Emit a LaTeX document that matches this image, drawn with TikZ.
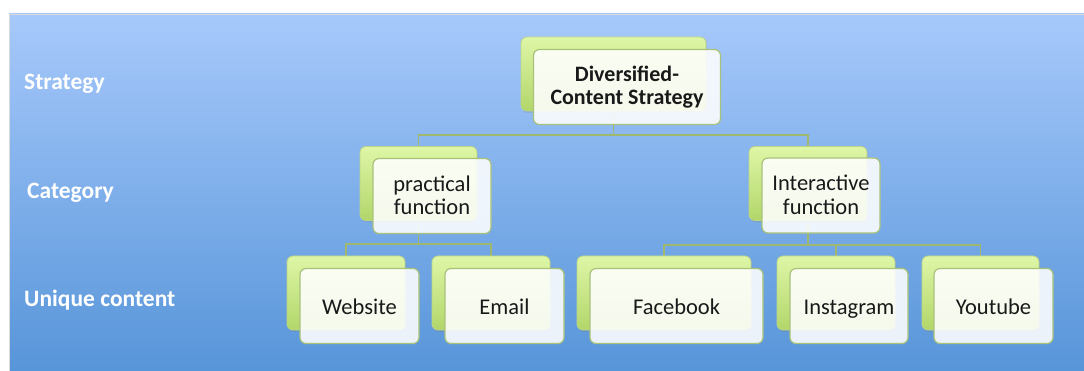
\documentclass[tikz,border=0pt]{standalone}
\usepackage{fontspec}
\setmainfont{Carlito}
\usetikzlibrary{shadows}
\pgfdeclarelayer{back}
\pgfdeclarelayer{lines}
\pgfsetlayers{back,lines,main}
\definecolor{bgtop}{HTML}{A7C9FB}
\definecolor{bgbot}{HTML}{5795D9}
\definecolor{gtop}{HTML}{DEF6A6}
\definecolor{gbot}{HTML}{B2D66A}
\definecolor{gedge}{HTML}{BCD488}
\definecolor{fedge}{HTML}{A9C27A}
\definecolor{lcol}{HTML}{9FB86E}
\tikzset{
  greenbox/.style={rectangle, rounded corners=6pt, top color=gtop, bottom color=gbot,
    draw=gedge, line width=0.8pt, inner sep=0pt, minimum height=74pt,
    drop shadow={opacity=0.25, shadow xshift=1pt, shadow yshift=-2pt}},
  frontbox/.style={rectangle, rounded corners=6pt, fill=white, fill opacity=0.88,
    text opacity=1, draw=fedge, line width=1.2pt, inner sep=0pt, minimum height=75pt,
    align=center, font=\fontsize{22.5}{23.5}\selectfont, text=black!90},
  oneline/.style={text height=18pt, text depth=0pt},
  twoline/.style={text height=38pt, text depth=0pt},
  sidelabel/.style={anchor=west, text=white, font=\fontsize{23.5}{26}\selectfont\bfseries, inner sep=0pt},
  conn/.style={draw=lcol, line width=1.8pt}
}
\begin{document}
\begin{tikzpicture}[x=1pt,y=-1pt]
\useasboundingbox (0,0) rectangle (1084,371);
\begin{pgfonlayer}{back}
  \fill[white] (0,0) rectangle (1084,371);
  \shade[top color=bgtop, bottom color=bgbot] (9,14) rectangle (1084,371);
  \draw[color=black!15, line width=0.8pt] (9,371) -- (9,14) -- (1084,14);
\end{pgfonlayer}

% side labels
\node[sidelabel] (lS) at (24,84) {Strategy};
\node[sidelabel] (lC) at (27,193) {Category};
\node[sidelabel] (lU) at (24,300) {Unique content};

% Strategy level
\node[greenbox, minimum width=185pt] (gD) at (613.5,74) {};
\node[frontbox, text height=36pt, text depth=0pt, minimum width=187pt, font=\fontsize{22}{23.5}\selectfont\bfseries] (D) at (627,87) {Diversified-\\Content Strategy};

% Category level
\node[greenbox, minimum width=117pt] (gP) at (418.5,183.5) {};
\node[frontbox, twoline, minimum width=118pt] (P) at (432,196) {practical\\function};
\node[greenbox, minimum width=118pt] (gI) at (808,183.5) {};
\node[frontbox, twoline, minimum width=118pt] (I) at (821,195.5) {Interactive\\function};

% Unique content level
\node[greenbox, minimum width=118pt] (gW) at (346,293) {};
\node[frontbox, oneline, minimum width=119pt] (W) at (359.5,306) {Website};
\node[greenbox, minimum width=118pt] (gE) at (491,293) {};
\node[frontbox, oneline, minimum width=119pt] (E) at (504.5,306) {Email};
\node[greenbox, minimum width=174pt] (gF) at (664,293) {};
\node[frontbox, oneline, minimum width=173pt] (F) at (676.5,306) {Facebook};
\node[greenbox, minimum width=118pt] (gG) at (836,293) {};
\node[frontbox, oneline, minimum width=118pt] (G) at (849,306) {Instagram};
\node[greenbox, minimum width=117pt] (gY) at (980.5,293) {};
\node[frontbox, oneline, minimum width=119pt] (Y) at (993.5,306) {Youtube};

\begin{pgfonlayer}{lines}
  \draw[conn] (gD.south) -- ++(0,24) coordinate (jD);
  \draw[conn] (gP.north) |- (jD) -| (gI.north);
  \draw[conn] (gP.south) -- ++(0,23) coordinate (jP);
  \draw[conn] (gW.north) |- (jP) -| (gE.north);
  \draw[conn] (gI.south) -- ++(0,24) coordinate (jI);
  \draw[conn] (gF.north) |- (jI) -| (gY.north);
  \draw[conn] (gG.north) -- (gG.north |- jI);
\end{pgfonlayer}
\end{tikzpicture}
\end{document}
